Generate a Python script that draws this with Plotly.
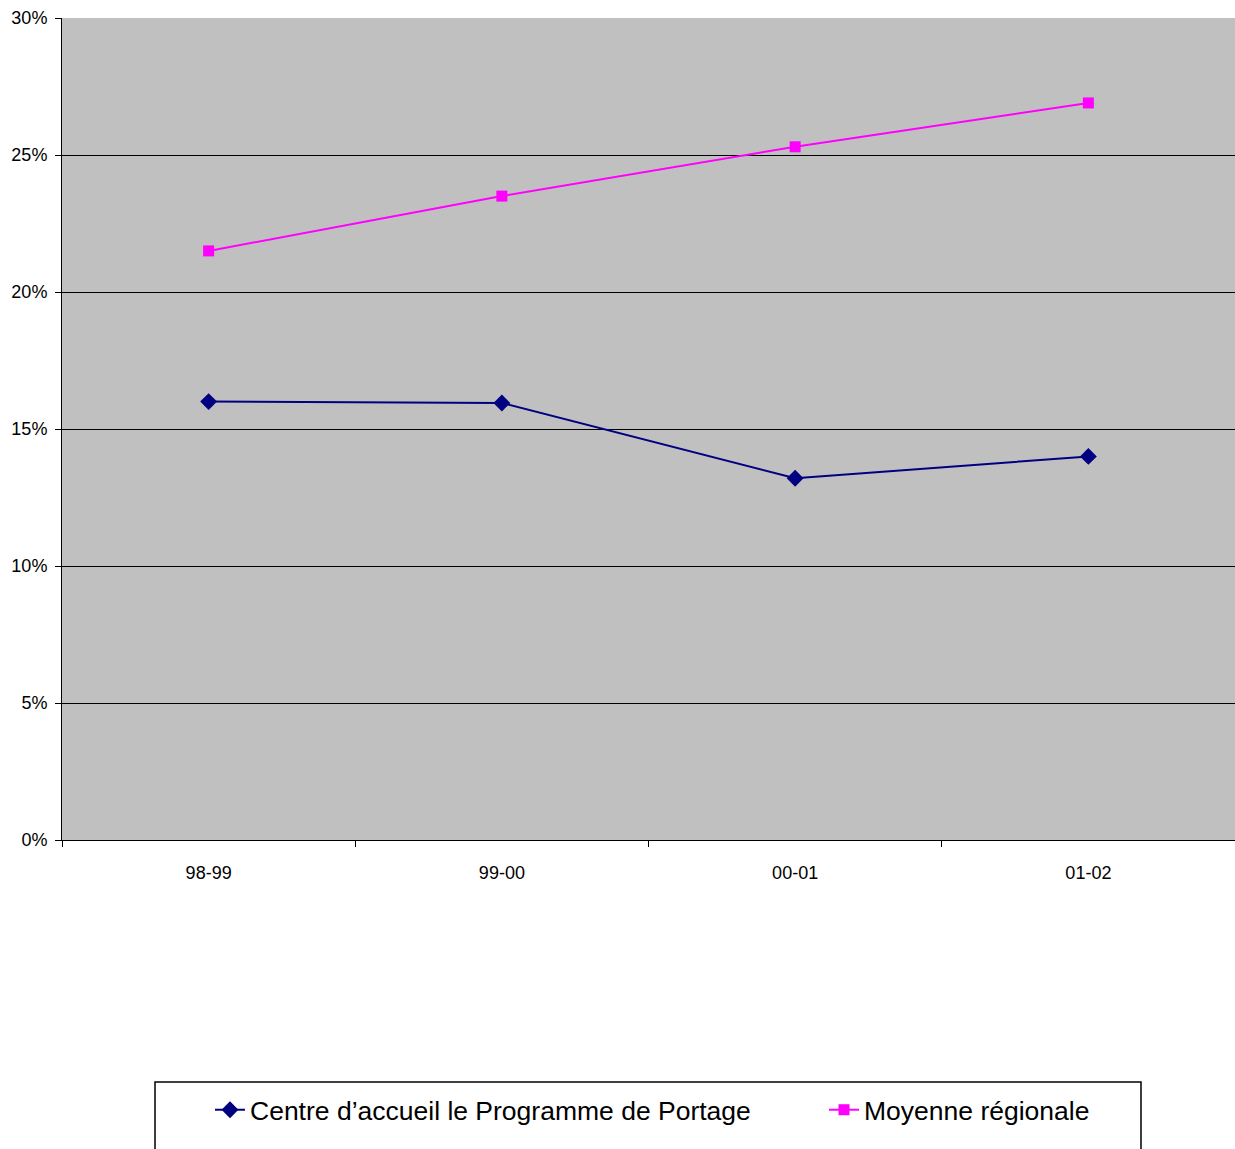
import plotly.graph_objects as go

categories = ["98-99", "99-00", "00-01", "01-02"]
centre_values = [16.0, 15.95, 13.2, 14.0]
moyenne_values = [21.5, 23.5, 25.3, 26.9]
y_ticks = [0, 5, 10, 15, 20, 25, 30]
y_tick_labels = ["0%", "5%", "10%", "15%", "20%", "25%", "30%"]
series_names = ["Centre d\u2019accueil le Programme de Portage", "Moyenne r\u00e9gionale"]

W, H = 1235, 1149
L, R, T, B = 62, 0, 18, 309
pw = W - L - R
ph = H - T - B


def px_x(x):
    return (x - L) / pw


def px_y(y):
    return (H - B - y) / ph


fig = go.Figure()
fig.add_trace(go.Scatter(
    x=categories, y=centre_values, name=series_names[0], mode="lines+markers",
    line=dict(color="#000080", width=2),
    marker=dict(symbol="diamond", size=13, color="#000080"),
    legend="legend",
))
fig.add_trace(go.Scatter(
    x=categories, y=moyenne_values, name=series_names[1], mode="lines+markers",
    line=dict(color="#FF00FF", width=2),
    marker=dict(symbol="square", size=11, color="#FF00FF"),
    legend="legend2",
))

fig.add_shape(type="rect", xref="paper", yref="paper",
              x0=px_x(155), x1=px_x(1141), y0=px_y(1175), y1=px_y(1082),
              line=dict(color="black", width=1.5), fillcolor="rgba(0,0,0,0)", layer="above")

legend_font = dict(size=26.5, family="Arial, Liberation Sans, sans-serif", color="black")

fig.update_layout(
    width=W, height=H,
    margin=dict(l=L, r=R, t=T, b=B, autoexpand=False),
    paper_bgcolor="white",
    plot_bgcolor="#C0C0C0",
    font=dict(family="Arial, Liberation Sans, sans-serif", color="black", size=18),
    showlegend=True,
    legend=dict(
        orientation="h", x=px_x(210), xanchor="left", y=px_y(1110), yanchor="middle",
        font=legend_font, bgcolor="rgba(0,0,0,0)",
    ),
    legend2=dict(
        orientation="h", x=px_x(824), xanchor="left", y=px_y(1110), yanchor="middle",
        font=legend_font, bgcolor="rgba(0,0,0,0)",
    ),
    xaxis=dict(
        type="category", range=[-0.5, 3.5],
        showgrid=False, showline=True, linecolor="black", linewidth=1,
        ticks="outside", tickson="boundaries", ticklen=6, tickcolor="black",
        tickfont=dict(size=18), zeroline=False, ticklabelstandoff=16,
    ),
    yaxis=dict(
        range=[0, 30], tickvals=y_ticks, ticktext=y_tick_labels,
        showgrid=True, gridcolor="black", gridwidth=1,
        showline=True, linecolor="black", linewidth=1,
        ticks="outside", ticklen=6, tickcolor="black",
        tickfont=dict(size=18), zeroline=False, ticklabelstandoff=4,
    ),
)

fig.write_html(
    "out.html",
    config={"displayModeBar": False},
    post_script="document.body.style.margin='0';document.body.style.overflow='hidden';",
)
